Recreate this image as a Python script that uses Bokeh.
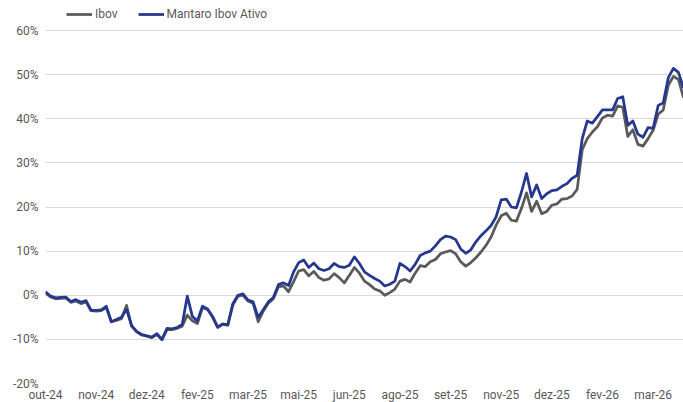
from bokeh.plotting import figure
from bokeh.models import (ColumnDataSource, Legend, LegendItem, FixedTicker,
                          PrintfTickFormatter, Range1d)
from bokeh.embed import file_html
from bokeh.resources import INLINE

# Tick labels (one every 10 samples)
tick_labels = ["out-24", "nov-24", "dez-24", "fev-25", "mar-25", "mai-25", "jun-25",
               "ago-25", "set-25", "nov-25", "dez-25", "fev-26", "mar-26"]
tick_step = 10

# Mantaro Ibov Ativo (cumulative return, %)
mantaro = [0.8, -0.2, -0.6, -0.5, -0.4, -1.4, -1.0, -1.6, -1.2, -3.4,
           -3.4, -3.3, -2.5, -6.0, -5.5, -5.0, -3.2, -6.9, -8.2, -8.9,
           -9.2, -9.5, -8.7, -10.0, -7.5, -7.6, -7.3, -6.6, -0.2, -4.8,
           -5.8, -2.5, -3.1, -4.8, -7.2, -6.5, -6.7, -1.9, 0.0, 0.3,
           -1.1, -1.5, -5.0, -3.3, -1.5, -0.5, 2.4, 2.8, 2.2, 5.3,
           7.4, 8.0, 6.3, 7.3, 6.0, 5.6, 6.0, 7.2, 6.5, 6.3,
           6.8, 8.7, 7.2, 5.3, 4.5, 3.8, 3.2, 2.1, 2.5, 3.2,
           7.2, 6.5, 5.5, 7.0, 9.0, 9.6, 10.0, 11.2, 12.6, 13.4,
           13.2, 12.6, 10.5, 9.5, 10.3, 12.1, 13.5, 14.6, 15.8, 17.8,
           21.6, 21.8, 20.0, 19.8, 23.4, 27.6, 22.3, 25.0, 21.9, 23.0,
           23.7, 23.9, 24.7, 25.3, 26.5, 27.2, 35.5, 39.5, 39.0, 40.5,
           42.0, 42.0, 42.0, 44.6, 45.0, 38.5, 39.5, 36.5, 35.8, 38.0,
           37.8, 43.0, 43.6, 49.3, 51.4, 50.5, 47.0]

# Ibov (cumulative return, %)
ibov = [0.5, -0.4, -0.8, -0.7, -0.6, -1.6, -1.3, -1.9, -1.5, -3.5,
        -3.6, -3.5, -2.8, -6.0, -5.7, -5.3, -2.3, -7.0, -8.3, -9.0,
        -9.3, -9.6, -8.9, -10.1, -7.8, -7.8, -7.5, -7.0, -4.5, -5.8,
        -6.4, -2.8, -3.2, -5.0, -7.3, -6.6, -6.8, -2.2, -0.2, 0.0,
        -1.3, -1.8, -6.0, -3.6, -1.8, -0.8, 1.9, 2.1, 0.8, 3.1,
        5.5, 5.8, 4.4, 5.4, 4.0, 3.4, 3.7, 4.9, 4.0, 2.8,
        4.5, 6.3, 5.0, 3.2, 2.4, 1.4, 1.0, 0.0, 0.6, 1.4,
        3.2, 3.6, 3.0, 5.0, 6.7, 6.5, 7.6, 8.1, 9.4, 9.8,
        10.1, 9.4, 7.6, 6.6, 7.4, 8.5, 9.8, 11.3, 13.2, 15.9,
        18.0, 18.6, 17.0, 16.8, 19.7, 23.2, 19.0, 21.3, 18.5, 19.0,
        20.4, 20.7, 21.8, 21.9, 22.5, 24.0, 33.0, 35.5, 37.0, 38.2,
        40.2, 40.8, 40.6, 42.9, 42.6, 36.0, 37.5, 34.2, 33.8, 35.5,
        37.4, 41.0, 42.0, 47.6, 49.6, 48.9, 44.8]

y_ticks = [-20, -10, 0, 10, 20, 30, 40, 50, 60]

idx = list(range(len(mantaro)))
src = ColumnDataSource(dict(x=idx, mantaro=mantaro, ibov=ibov))

FONT = "Roboto"
TXT = "#595959"
FRAME_H = 383
FRAME_W = 638
# headroom above the 60% gridline for the legend (30 px of 353 px per 80 pts)
Y_TOP = 60 + 30 * 80 / 353

p = figure(frame_width=FRAME_W, frame_height=FRAME_H, output_backend="svg",
           toolbar_location=None,
           x_range=Range1d(0, len(idx) - 1), y_range=Range1d(-20, Y_TOP),
           min_border_left=45, min_border_right=0, min_border_top=0,
           min_border_bottom=19)
p.outline_line_color = None
p.background_fill_color = "white"
p.border_fill_color = "white"

r_ibov = p.line("x", "ibov", source=src, line_color="#5a5a5a", line_width=2.75,
                line_join="round")
r_man = p.line("x", "mantaro", source=src, line_color="#26378f", line_width=2.75,
               line_join="round")

# X axis
ticks_x = [i * tick_step for i in range(len(tick_labels))]
p.xaxis.ticker = FixedTicker(ticks=ticks_x)
p.xaxis.major_label_overrides = {t: lab for t, lab in zip(ticks_x, tick_labels)}
p.xaxis.axis_line_color = None
p.xaxis.major_tick_line_color = None
p.xaxis.minor_tick_line_color = None
p.xaxis.major_tick_in = 0
p.xaxis.major_tick_out = 0
p.xaxis.major_label_standoff = 4
p.xaxis.major_label_text_font = FONT
p.xaxis.major_label_text_font_size = "12px"
p.xaxis.major_label_text_color = TXT

# Y axis
p.yaxis.ticker = FixedTicker(ticks=y_ticks)
p.yaxis.formatter = PrintfTickFormatter(format="%d%%")
p.yaxis.axis_line_color = None
p.yaxis.major_tick_line_color = None
p.yaxis.minor_tick_line_color = None
p.yaxis.major_tick_in = 0
p.yaxis.major_tick_out = 0
p.yaxis.major_label_standoff = 7
p.yaxis.major_label_text_font = FONT
p.yaxis.major_label_text_font_size = "12px"
p.yaxis.major_label_text_color = TXT

p.xgrid.grid_line_color = None
p.ygrid.grid_line_color = "#d9d9d9"
p.ygrid.grid_line_width = 1
p.ygrid.ticker = FixedTicker(ticks=y_ticks)

legend = Legend(items=[LegendItem(label="Ibov", renderers=[r_ibov]),
                       LegendItem(label="Mantaro Ibov Ativo", renderers=[r_man])],
                orientation="horizontal", location=(21, FRAME_H - 21))
legend.border_line_color = None
legend.background_fill_alpha = 0
legend.margin = 0
legend.padding = 0
legend.spacing = 20
legend.glyph_width = 26
legend.glyph_height = 14
legend.label_standoff = 3
legend.label_text_font = FONT
legend.label_text_font_size = "12px"
legend.label_text_color = TXT
legend.label_height = 14
p.add_layout(legend)

open("out.html", "w").write(file_html(p, INLINE))
